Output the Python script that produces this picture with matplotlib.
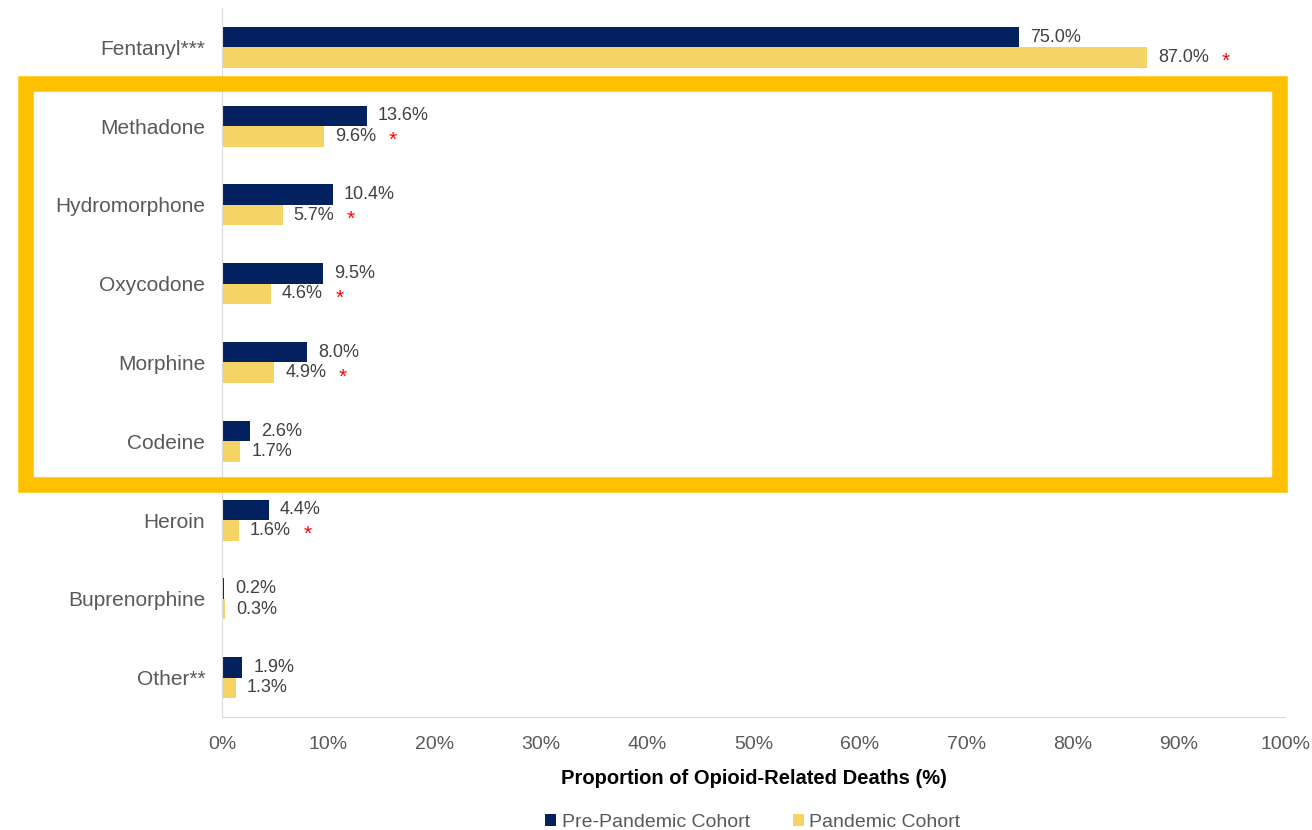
import matplotlib.pyplot as plt
import matplotlib.patches as patches
import numpy as np

plt.rcParams['font.family'] = ['Liberation Sans', 'DejaVu Sans']

drugs = ["Fentanyl***", "Methadone", "Hydromorphone", "Oxycodone", "Morphine",
         "Codeine", "Heroin", "Buprenorphine", "Other**"]
pre_pandemic = [75.0, 13.6, 10.4, 9.5, 8.0, 2.6, 4.4, 0.2, 1.9]
pandemic = [87.0, 9.6, 5.7, 4.6, 4.9, 1.7, 1.6, 0.3, 1.3]
significant = [True, True, True, True, True, False, True, False, False]

navy = "#03215F"
yellow = "#F6D365"
gold = "#FFC000"
grey_text = "#404040"

fig = plt.figure(figsize=(13.12, 8.3), dpi=100)
ax = fig.add_axes([222 / 1312, 1 - 717 / 830, 1063 / 1312, (717 - 8) / 830])

y = np.arange(len(drugs))
h = 0.26
ax.barh(y - h / 2, pre_pandemic, height=h, color=navy, label="Pre-Pandemic Cohort")
ax.barh(y + h / 2, pandemic, height=h, color=yellow, label="Pandemic Cohort")

for i in range(len(drugs)):
    ax.annotate(f"{pre_pandemic[i]:.1f}%", (pre_pandemic[i], y[i] - h / 2),
                xytext=(8, 0), textcoords="offset points", va="center", ha="left",
                fontsize=13, color=grey_text)
    lab = ax.annotate(f"{pandemic[i]:.1f}%", (pandemic[i], y[i] + h / 2),
                      xytext=(8, 0), textcoords="offset points", va="center", ha="left",
                      fontsize=13, color=grey_text)
    if significant[i]:
        ax.annotate("*", xy=(1, 0.5), xycoords=lab, xytext=(9, -3),
                    textcoords="offset points", va="center", ha="left",
                    fontsize=15, color="#FF0000")

ax.set_ylim(len(drugs) - 0.5, -0.5)
ax.set_xlim(0, 100)
ax.set_yticks(y)
ax.set_yticklabels(drugs, fontsize=15, color="#595959")
ax.set_xticks(range(0, 101, 10))
ax.set_xticklabels([f"{t}%" for t in range(0, 101, 10)], fontsize=14, color="#595959")
ax.tick_params(length=0, axis="y", pad=12)
ax.tick_params(length=0, axis="x", pad=14)
for s in ["top", "right"]:
    ax.spines[s].set_visible(False)
for s in ["left", "bottom"]:
    ax.spines[s].set_color("#D9D9D9")
ax.set_xlabel("Proportion of Opioid-Related Deaths (%)", fontsize=14.5,
              fontweight="bold", labelpad=11)

handles, labels = ax.get_legend_handles_labels()
fig.legend(handles, labels, loc="lower center", bbox_to_anchor=(753 / 1312, -0.022),
           ncol=2, frameon=False, fontsize=14, handlelength=0.55, handleheight=0.55,
           handletextpad=0.3, columnspacing=2.2, labelcolor="#595959")

# highlight box
box = patches.Rectangle((25.5 / 1312, 1 - 485 / 830), (1279.7 - 25.5) / 1312,
                        (485 - 84.5) / 830, transform=fig.transFigure,
                        fill=False, edgecolor=gold, linewidth=11.2, clip_on=False)
fig.patches.append(box)

fig.savefig("out.png", dpi=100)
